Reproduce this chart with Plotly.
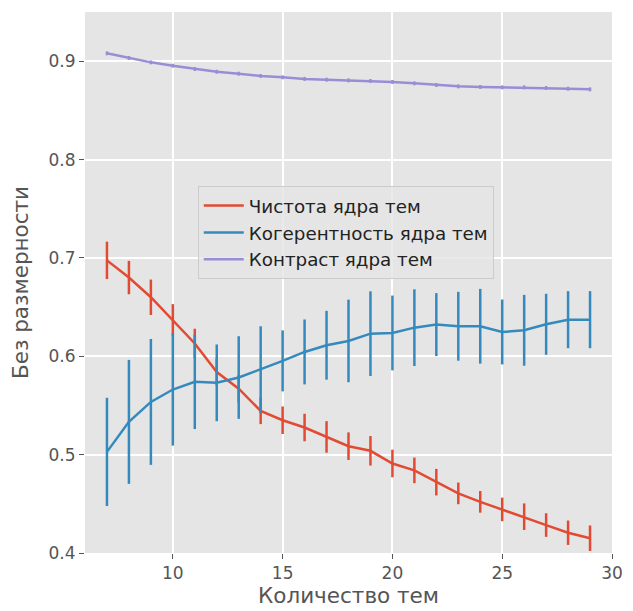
import plotly.graph_objects as go

topics = list(range(7, 30))

purity = [0.6975, 0.680, 0.660, 0.637, 0.613, 0.584, 0.567, 0.5445, 0.535, 0.5276, 0.518,
          0.5086, 0.5039, 0.491, 0.484, 0.472, 0.4606, 0.452, 0.4443, 0.4369, 0.4284, 0.4206, 0.415]
purity_err = [0.019, 0.017, 0.018, 0.016, 0.015, 0.014, 0.014, 0.0135, 0.014, 0.014, 0.016,
              0.014, 0.015, 0.014, 0.013, 0.0135, 0.011, 0.011, 0.012, 0.0135, 0.012, 0.0124, 0.013]

coherence = [0.5028, 0.5333, 0.5536, 0.5662, 0.574, 0.573, 0.5784, 0.5865, 0.5953, 0.6044, 0.6112,
             0.6156, 0.623, 0.6237, 0.6291, 0.6322, 0.6305, 0.6305, 0.6247, 0.6264, 0.6325, 0.6372, 0.6372]
coherence_err = [0.055, 0.063, 0.064, 0.057, 0.048, 0.039, 0.042, 0.044, 0.031, 0.033, 0.035,
                 0.042, 0.043, 0.038, 0.039, 0.032, 0.035, 0.038, 0.033, 0.036, 0.031, 0.029, 0.029]

contrast = [0.908, 0.9033, 0.8988, 0.8954, 0.892, 0.8893, 0.8873, 0.885, 0.8836, 0.882, 0.8812,
            0.8805, 0.8799, 0.8789, 0.8775, 0.8758, 0.8744, 0.8738, 0.8734, 0.8734, 0.8728, 0.872, 0.8714]
contrast_err = [0.002] * 23

names = ["Чистота ядра тем", "Когерентность ядра тем", "Контраст ядра тем"]
colors = ["#E24A33", "#348ABD", "#988ED5"]

fig = go.Figure()
for name, vals, errs, col in zip(names, [purity, coherence, contrast],
                                 [purity_err, coherence_err, contrast_err], colors):
    fig.add_trace(go.Scatter(
        x=topics, y=vals, name=name, mode="lines",
        line=dict(color=col, width=2.5),
        error_y=dict(type="data", array=errs, visible=True, color=col, thickness=2.5, width=0),
    ))

font_family = "DejaVu Sans"
fig.update_layout(
    width=625, height=603,
    margin=dict(l=77, r=21, t=4, b=58, autoexpand=False),
    paper_bgcolor="white",
    plot_bgcolor="#E5E5E5",
    font=dict(family=font_family, color="#555555", size=17),
    showlegend=True,
    legend=dict(
        x=0.214, y=0.678, xanchor="left", yanchor="top",
        bgcolor="rgba(229,229,229,0.8)", bordercolor="#CCCCCC", borderwidth=1,
        font=dict(family=font_family, size=18.3, color="#222222"),
        tracegroupgap=0, itemwidth=40,
    ),
    xaxis=dict(
        range=[6, 30], tickvals=[10, 15, 20, 25, 30],
        showgrid=True, gridcolor="white", gridwidth=1.6, automargin=False,
        zeroline=False, ticks="outside", ticklen=5, tickwidth=1.2, tickcolor="#555555",
        tickfont=dict(size=17, color="#555555"),
        title=dict(text="Количество тем", font=dict(size=21.5, color="#555555"), standoff=4),
    ),
    yaxis=dict(
        range=[0.4, 0.95], tickvals=[0.4, 0.5, 0.6, 0.7, 0.8, 0.9],
        ticktext=["0.4", "0.5", "0.6", "0.7", "0.8", "0.9"],
        showgrid=True, gridcolor="white", gridwidth=1.6, automargin=False,
        zeroline=False, ticks="outside", ticklen=5, tickwidth=1.2, tickcolor="#555555",
        tickfont=dict(size=17, color="#555555"),
        title=dict(text="Без размерности", font=dict(size=21.5, color="#555555"), standoff=14),
    ),
)

fig.write_html("out.html")
